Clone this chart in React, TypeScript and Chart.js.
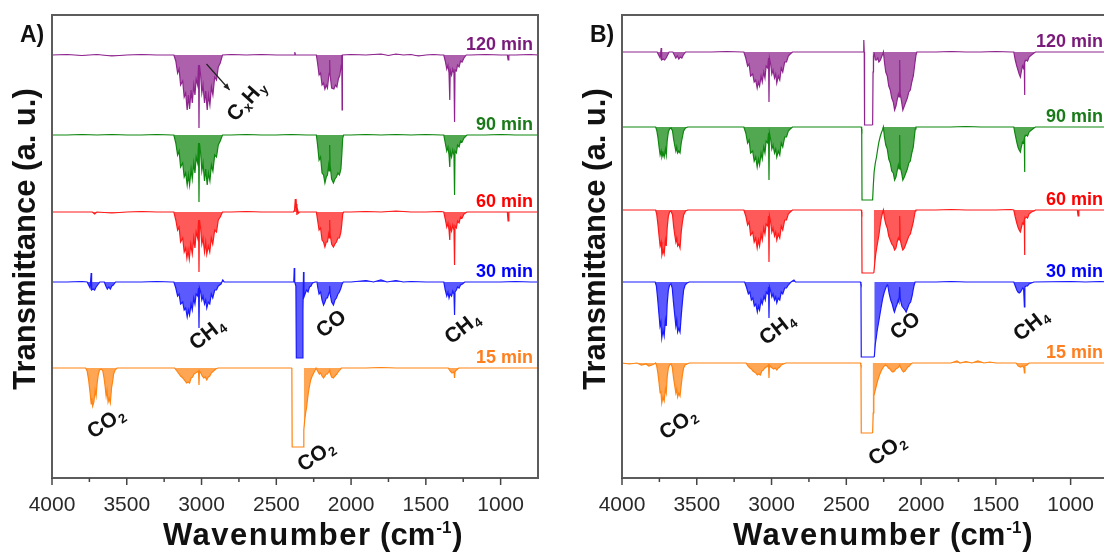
import React, { useEffect, useRef } from 'react';
import { Chart, registerables } from 'chart.js';

Chart.register(...registerables);

type Pt = [number, number];

const seriesLabels = ['120 min', '90 min', '60 min', '30 min', '15 min'];
const lineColors = ['#8E248E', '#0E870E', '#FF1A1A', '#1A1AFF', '#FF8412'];
const fillColors = [
  'rgba(142,36,142,0.72)',
  'rgba(14,135,14,0.72)',
  'rgba(255,26,26,0.72)',
  'rgba(26,26,255,0.72)',
  'rgba(255,132,18,0.72)',
];
const labelColors = ['#7A1A7A', '#1A7A1A', '#FF0000', '#0000FF', '#FF7F1F'];

const xTickValues = [1000, 1250, 1500, 1750, 2000, 2250, 2500, 2750, 3000, 3250, 3500, 3750, 4000];
const xLabelValues = [1000, 1500, 2000, 2500, 3000, 3500, 4000];
const xMin = 750;
const xMax = 4000;
const yMin = 0;
const yMax = 463;

// baselines (a.u.) of the stacked traces: 120, 90, 60, 30, 15 min
const offsetsA = [423, 343, 266, 196, 110];
const offsetsB = [426, 351, 268, 196, 115];

// ---------- Panel A ----------
const a120: Pt[] = [
  [4000, 0], [3900, 0.5], [3800, -0.5], [3700, 0.5], [3600, -1], [3500, 0], [3400, 0.5], [3300, 0], [3200, 0],
  [3185, 0], [3172, -6], [3160, -18], [3150, -14], [3140, -30], [3126, -26], [3116, -42], [3106, -38], [3096, -55], [3088, -40], [3080, -54], [3070, -35], [3062, -48], [3052, -30], [3044, -40], [3036, -24], [3026, -30], [3020, -10], [3017, -73], [3014, -10], [3006, -20], [2998, -38], [2990, -30], [2980, -48], [2972, -36], [2962, -55], [2954, -40], [2944, -50], [2934, -32], [2924, -40], [2912, -22], [2900, -25], [2888, -12], [2875, -8], [2860, 0],
  [2800, 0.5], [2700, 0], [2600, 0.5], [2500, 0], [2420, 0], [2380, 0], [2376, 3], [2372, 0], [2300, 0], [2250, 0],
  [2232, 0], [2224, -8], [2214, -20], [2204, -18], [2194, -30], [2184, -28], [2175, -34], [2166, -30], [2158, -33], [2150, -22], [2146, -18], [2143, -5], [2140, -20], [2130, -33], [2115, -34], [2105, -30], [2095, -32], [2085, -24], [2075, -20], [2066, -10], [2062, 0], [2060, -55], [2058, 0],
  [2000, 0.5], [1900, 0], [1800, 1], [1750, -0.5], [1700, 1], [1650, 0], [1600, 0.5], [1550, -1], [1500, 0], [1450, 0.5], [1400, 0],
  [1380, 0], [1370, -6], [1360, -14], [1352, -10], [1345, -18], [1340, -45], [1337, -15], [1328, -20], [1320, -14], [1312, -18], [1308, -67], [1305, -15], [1296, -16], [1288, -10], [1278, -12], [1268, -6], [1258, -7], [1245, -3], [1230, 0],
  [1200, 0], [1100, 0.5], [1000, 0], [955, 0], [950, -5], [945, 0], [900, 0], [800, 0.5], [750, 0],
];

const a90: Pt[] = [
  [4000, 0], [3900, 0], [3800, 0.5], [3700, 0], [3600, 0.5], [3500, 0], [3400, 0], [3300, 0.5], [3200, 0],
  [3185, 0], [3172, -8], [3160, -20], [3150, -16], [3140, -32], [3126, -28], [3116, -42], [3106, -38], [3096, -50], [3088, -40], [3080, -50], [3070, -34], [3062, -44], [3052, -28], [3044, -38], [3036, -22], [3026, -28], [3020, -8], [3017, -67], [3014, -8], [3006, -18], [2998, -36], [2990, -28], [2980, -46], [2972, -34], [2962, -50], [2954, -38], [2944, -46], [2934, -30], [2924, -36], [2912, -20], [2900, -22], [2888, -10], [2875, -6], [2860, 0],
  [2800, 0], [2700, 0.5], [2600, 0], [2500, 0], [2400, 0.5], [2300, 0], [2250, 0],
  [2232, 0], [2224, -10], [2214, -25], [2204, -22], [2194, -38], [2184, -40], [2175, -48], [2166, -42], [2158, -40], [2150, -30], [2146, -36], [2143, -10], [2140, -30], [2130, -44], [2118, -48], [2108, -44], [2098, -42], [2088, -38], [2078, -40], [2068, -34], [2062, -20], [2056, -3], [2050, 0],
  [2000, 0], [1900, 0.5], [1800, 0], [1700, 0.5], [1600, 0], [1500, 0.5], [1400, 0],
  [1380, 0], [1370, -8], [1360, -16], [1352, -12], [1345, -20], [1340, -32], [1337, -16], [1328, -22], [1320, -15], [1312, -20], [1308, -60], [1305, -16], [1296, -18], [1288, -10], [1278, -12], [1268, -6], [1258, -7], [1245, -3], [1225, 0],
  [1100, 0], [1000, 0.5], [900, 0], [800, 0], [750, 0],
];

const a60: Pt[] = [
  [4000, 0], [3900, 0], [3800, 0], [3730, 0], [3715, -2], [3700, 0], [3600, -1], [3500, 0], [3400, 0.5], [3300, 0], [3200, 0],
  [3185, 0], [3172, -8], [3160, -18], [3150, -15], [3140, -30], [3126, -26], [3116, -40], [3106, -36], [3098, -46], [3090, -38], [3082, -47], [3072, -32], [3062, -42], [3052, -26], [3044, -36], [3036, -20], [3026, -26], [3020, -8], [3017, -60], [3014, -8], [3006, -16], [2998, -32], [2990, -26], [2980, -40], [2972, -30], [2965, -42], [2955, -34], [2945, -40], [2935, -26], [2925, -32], [2912, -18], [2900, -20], [2888, -8], [2875, -5], [2860, 0],
  [2800, 0], [2700, 0.5], [2600, 0], [2500, 0], [2420, 0],
  [2385, 0], [2378, 2], [2373, 13], [2370, 4], [2366, 8], [2362, -3], [2357, 2], [2352, -1], [2345, 0], [2300, 0], [2250, 0],
  [2232, 0], [2224, -8], [2214, -18], [2204, -16], [2194, -28], [2184, -30], [2175, -35], [2166, -30], [2158, -30], [2150, -22], [2146, -26], [2143, -8], [2140, -22], [2130, -32], [2118, -35], [2108, -32], [2098, -30], [2088, -26], [2078, -26], [2068, -20], [2062, -12], [2056, -2], [2050, 0],
  [2000, 0], [1900, 0.5], [1800, 0], [1700, 1], [1600, 0], [1500, 0], [1400, 0.5],
  [1380, 0], [1370, -7], [1360, -15], [1352, -11], [1345, -18], [1340, -28], [1337, -14], [1328, -19], [1320, -13], [1312, -18], [1308, -53], [1305, -14], [1296, -16], [1288, -9], [1278, -11], [1268, -5], [1258, -6], [1245, -2], [1225, 0],
  [1100, 0], [1000, 0], [955, 0], [950, -9], [945, 0], [900, 0], [800, 0], [750, 0],
];

const a30: Pt[] = [
  [4000, 0], [3900, 0], [3800, 0.5], [3765, 0], [3755, -3], [3745, -6], [3738, 9], [3735, -8], [3725, -7], [3715, -8], [3705, -5], [3695, -3], [3680, 0], [3650, 0], [3640, -4], [3630, -7], [3620, -5], [3610, -7], [3600, -4], [3590, -3], [3575, 0], [3500, 0], [3400, 0], [3300, 0.5], [3200, 0],
  [3185, 0], [3172, -6], [3160, -14], [3150, -12], [3140, -22], [3126, -20], [3116, -28], [3106, -26], [3096, -35], [3088, -28], [3080, -33], [3070, -22], [3062, -28], [3052, -16], [3044, -22], [3036, -12], [3026, -14], [3020, -6], [3017, -46], [3014, -6], [3006, -10], [2998, -18], [2990, -14], [2980, -22], [2972, -18], [2965, -26], [2955, -20], [2945, -22], [2935, -12], [2925, -16], [2912, -8], [2900, -8], [2888, -4], [2870, -2], [2858, 2], [2848, 0],
  [2800, 0], [2700, 0], [2600, 0], [2500, 0], [2420, 0],
  [2392, 0], [2383, 0], [2380, 14], [2377, 0], [2369, -4], [2366, -76], [2326, -76], [2322, -30], [2318, 10], [2315, -15], [2308, -12], [2298, -8], [2288, -10], [2278, -5], [2268, -4], [2258, -1], [2240, 0],
  [2228, 0], [2222, -6], [2214, -12], [2204, -10], [2194, -18], [2184, -23], [2175, -20], [2166, -16], [2158, -16], [2150, -12], [2146, -10], [2143, -4], [2140, -12], [2130, -20], [2118, -23], [2108, -18], [2098, -16], [2088, -12], [2078, -10], [2068, -6], [2060, -2], [2052, 0],
  [2000, 0], [1900, 1.5], [1850, 0], [1800, 2], [1760, 0], [1700, 1.5], [1650, 0], [1600, 0.5], [1500, 0], [1400, 0],
  [1380, 0], [1370, -8], [1360, -14], [1352, -10], [1345, -16], [1338, -12], [1328, -14], [1320, -9], [1312, -12], [1308, -33], [1305, -10], [1296, -8], [1288, -5], [1278, -6], [1268, -3], [1255, -2], [1240, 0],
  [1100, 0], [1000, 0], [900, 0.5], [800, 0], [750, 0],
];

const a15: Pt[] = [
  [4000, 0], [3900, 0], [3800, 0], [3775, 0], [3765, -3], [3755, -12], [3745, -25], [3738, -36], [3733, -30], [3728, -38], [3720, -34], [3712, -22], [3705, -28], [3698, -15], [3690, -6], [3682, -2], [3670, -1], [3660, -3], [3652, -10], [3645, -18], [3638, -28], [3632, -22], [3625, -34], [3618, -30], [3610, -35], [3602, -20], [3595, -14], [3588, -6], [3578, -2], [3565, 0], [3500, 0], [3400, 0], [3300, 0], [3200, 0],
  [3180, 0], [3165, -3], [3150, -6], [3140, -8], [3125, -10], [3110, -13], [3100, -15], [3090, -14], [3080, -15], [3070, -10], [3060, -9], [3050, -6], [3040, -5], [3030, -4], [3020, -3], [3017, -17], [3014, -3], [3005, -5], [2995, -8], [2985, -10], [2975, -9], [2965, -12], [2955, -9], [2945, -8], [2935, -5], [2920, -3], [2905, -1], [2890, 0],
  [2800, 0], [2700, 0], [2600, 0], [2500, 0], [2420, 0],
  [2396, 0], [2394, -79], [2318, -79], [2316, -62], [2310, -52], [2304, -45], [2298, -40], [2292, -32], [2285, -24], [2278, -18], [2270, -12], [2260, -8], [2250, -5], [2240, -2], [2234, 0],
  [2228, 0], [2220, -4], [2212, -6], [2204, -5], [2194, -8], [2184, -10], [2175, -8], [2166, -6], [2158, -6], [2150, -4], [2143, -2], [2140, -5], [2130, -9], [2118, -10], [2108, -8], [2096, -6], [2086, -4], [2076, -2], [2065, 0],
  [2000, 0], [1900, 0], [1800, 0.5], [1700, 0], [1600, 0], [1500, 0], [1400, 0],
  [1350, 0], [1338, -3], [1325, -5], [1312, -4], [1308, -10], [1305, -4], [1295, -2], [1280, 0],
  [1100, 0], [1000, 0], [900, 0], [800, 0], [750, 0],
];

// ---------- Panel B ----------
const b120: Pt[] = [
  [4000, 0], [3900, 0], [3800, 0], [3765, 0], [3755, -3], [3745, -6], [3738, 4], [3735, -8], [3725, -7], [3715, -8], [3705, -6], [3695, -3], [3685, 0], [3660, 0], [3650, -3], [3640, -6], [3630, -4], [3620, -7], [3610, -5], [3600, -6], [3590, -3], [3575, 0], [3400, 0], [3300, 0.5], [3200, 0],
  [3185, 0], [3172, -6], [3160, -14], [3150, -12], [3140, -24], [3126, -22], [3116, -30], [3106, -28], [3096, -36], [3088, -30], [3080, -34], [3070, -24], [3062, -30], [3052, -20], [3044, -26], [3036, -14], [3026, -16], [3020, -6], [3017, -50], [3014, -6], [3006, -12], [2998, -22], [2990, -18], [2980, -26], [2972, -22], [2965, -31], [2955, -24], [2945, -28], [2935, -16], [2925, -20], [2912, -10], [2900, -10], [2888, -4], [2875, -2], [2860, 0],
  [2800, 0], [2700, 0], [2600, 0], [2500, 0], [2420, 0],
  [2395, 0], [2386, 0], [2383, 12], [2380, 0], [2378, -73], [2324, -73], [2321, -20], [2318, -4], [2312, -2], [2306, -8], [2298, -8], [2290, -6], [2282, -10], [2272, -8], [2262, -4], [2256, -2],
  [2252, 0], [2245, -10], [2236, -20], [2226, -24], [2216, -34], [2206, -38], [2196, -46], [2186, -50], [2177, -58], [2168, -54], [2160, -48], [2152, -42], [2147, -45], [2143, -8], [2139, -42], [2130, -50], [2122, -58], [2112, -54], [2102, -50], [2092, -46], [2082, -40], [2072, -38], [2062, -30], [2052, -24], [2042, -12], [2034, -3], [2028, 0],
  [1900, 0], [1800, 0.5], [1700, 0], [1600, 0], [1500, 0.5], [1400, 0],
  [1380, 0], [1370, -8], [1360, -14], [1352, -18], [1344, -22], [1336, -25], [1330, -20], [1322, -14], [1316, -16], [1310, -12], [1308, -43], [1306, -10], [1298, -8], [1288, -9], [1278, -5], [1262, -3], [1245, -1], [1235, 0],
  [1100, 0], [1000, 0], [900, 0], [800, 0], [750, 0],
];

const b90: Pt[] = [
  [4000, 0], [3900, 0], [3800, 0], [3775, 0], [3768, -3], [3760, -10], [3752, -20], [3745, -28], [3738, -24], [3733, -30], [3725, -26], [3718, -30], [3710, -22], [3704, -28], [3698, -14], [3690, -5], [3682, -2], [3672, -1], [3662, -4], [3655, -12], [3648, -18], [3640, -24], [3634, -20], [3628, -26], [3620, -24], [3612, -26], [3604, -16], [3596, -10], [3588, -4], [3575, -1], [3560, 0], [3400, 0], [3300, 0], [3200, 0],
  [3185, 0], [3172, -6], [3160, -16], [3150, -13], [3140, -26], [3126, -24], [3116, -34], [3106, -30], [3096, -40], [3088, -32], [3080, -38], [3070, -26], [3062, -32], [3052, -20], [3044, -26], [3036, -14], [3026, -16], [3020, -6], [3017, -53], [3014, -6], [3006, -12], [2998, -22], [2990, -18], [2980, -26], [2972, -22], [2965, -30], [2955, -24], [2945, -28], [2935, -16], [2925, -20], [2912, -10], [2900, -10], [2888, -4], [2875, -2], [2860, 0],
  [2800, 0], [2700, 0], [2600, 0], [2500, 0], [2420, 0],
  [2400, 0], [2397, -2], [2395, -73], [2324, -73], [2320, -60], [2314, -45], [2306, -36], [2298, -30], [2290, -22], [2282, -15], [2274, -10], [2266, -6], [2258, -3],
  [2252, 0], [2245, -10], [2236, -18], [2226, -22], [2216, -32], [2206, -36], [2196, -44], [2186, -46], [2177, -53], [2168, -50], [2160, -44], [2152, -38], [2147, -42], [2143, -8], [2139, -40], [2130, -46], [2122, -53], [2112, -50], [2102, -46], [2092, -42], [2082, -36], [2072, -34], [2062, -26], [2052, -20], [2045, -10], [2039, -2], [2034, 0],
  [1900, 0], [1800, 0], [1700, 0.5], [1600, 0], [1500, 0], [1400, 0],
  [1380, 0], [1370, -8], [1360, -15], [1352, -20], [1344, -23], [1336, -25], [1330, -20], [1322, -15], [1316, -16], [1310, -12], [1308, -45], [1306, -10], [1298, -8], [1288, -9], [1278, -5], [1262, -3], [1245, -1], [1235, 0],
  [1100, 0], [1000, 0], [900, 0], [800, 0], [750, 0],
];

const b60: Pt[] = [
  [4000, 0], [3900, 0], [3800, 0], [3775, 0], [3768, -4], [3760, -14], [3752, -26], [3745, -36], [3738, -32], [3733, -45], [3725, -40], [3718, -44], [3710, -30], [3704, -36], [3698, -18], [3690, -6], [3682, -2], [3672, -1], [3662, -5], [3655, -16], [3648, -24], [3640, -32], [3634, -28], [3628, -36], [3620, -34], [3612, -38], [3604, -22], [3596, -12], [3588, -5], [3575, -1], [3560, 0], [3400, 0], [3300, 0], [3200, 0],
  [3185, 0], [3172, -6], [3160, -15], [3150, -12], [3140, -25], [3126, -22], [3116, -32], [3106, -28], [3096, -38], [3088, -30], [3080, -36], [3070, -24], [3062, -30], [3052, -18], [3044, -24], [3036, -14], [3026, -16], [3020, -6], [3017, -52], [3014, -6], [3006, -12], [2998, -22], [2990, -18], [2980, -26], [2972, -22], [2965, -30], [2955, -24], [2945, -28], [2935, -16], [2925, -20], [2912, -10], [2900, -10], [2888, -4], [2875, -2], [2860, 0],
  [2800, 0], [2700, 0], [2600, 0], [2500, 0], [2420, 0],
  [2400, 0], [2397, -2], [2395, -63], [2316, -63], [2311, -55], [2304, -45], [2297, -38], [2290, -32], [2282, -25], [2274, -16], [2266, -8], [2258, -3],
  [2252, 0], [2245, -8], [2236, -14], [2226, -18], [2216, -26], [2206, -30], [2196, -34], [2186, -36], [2177, -40], [2168, -38], [2160, -32], [2152, -28], [2147, -30], [2143, -6], [2139, -30], [2130, -36], [2122, -40], [2112, -38], [2102, -34], [2092, -30], [2082, -26], [2072, -24], [2062, -18], [2052, -12], [2045, -6], [2039, -1], [2034, 0],
  [1900, 0], [1800, 0.5], [1700, 0], [1600, 0], [1500, 0], [1400, 0.5],
  [1380, 0], [1370, -7], [1360, -13], [1352, -17], [1344, -20], [1336, -22], [1330, -18], [1322, -13], [1316, -14], [1310, -10], [1308, -45], [1306, -9], [1298, -7], [1288, -8], [1278, -4], [1262, -2], [1245, -1], [1235, 0],
  [1000, 0], [955, 0], [950, -6], [945, 0], [900, 0], [800, 0], [750, 0],
];

const b30: Pt[] = [
  [4000, 0], [3900, 0], [3800, 0], [3778, 0], [3770, -4], [3762, -16], [3754, -30], [3746, -44], [3740, -40], [3734, -56], [3726, -48], [3718, -54], [3710, -38], [3704, -44], [3698, -22], [3690, -8], [3682, -3], [3672, -2], [3664, -6], [3656, -20], [3648, -32], [3640, -44], [3634, -38], [3628, -50], [3620, -46], [3612, -50], [3604, -34], [3596, -20], [3588, -8], [3578, -3], [3565, -1], [3550, 0], [3400, 0], [3300, 0], [3200, 0],
  [3180, 0], [3168, -5], [3155, -12], [3145, -10], [3135, -18], [3125, -16], [3115, -24], [3105, -22], [3095, -30], [3088, -24], [3080, -28], [3070, -18], [3062, -22], [3050, -14], [3042, -18], [3035, -10], [3025, -12], [3020, -5], [3017, -36], [3014, -5], [3006, -9], [2998, -15], [2990, -12], [2980, -18], [2972, -15], [2965, -21], [2955, -16], [2945, -18], [2935, -10], [2925, -12], [2912, -6], [2900, -6], [2888, -3], [2870, 0], [2850, 2], [2840, 0],
  [2800, 0], [2700, 0], [2600, 0], [2500, 0], [2420, 0],
  [2406, 0], [2402, -2], [2400, -75], [2313, -75], [2306, -62], [2300, -56], [2293, -48], [2286, -42], [2278, -35], [2268, -26], [2256, -16], [2246, -10], [2234, -5], [2226, -3],
  [2222, -4], [2213, -12], [2203, -18], [2193, -22], [2183, -28], [2178, -30], [2170, -26], [2160, -22], [2153, -18], [2148, -20], [2143, -5], [2138, -18], [2128, -24], [2118, -26], [2108, -28], [2100, -30], [2090, -26], [2080, -22], [2070, -20], [2060, -14], [2053, -8], [2046, -3], [2040, 0],
  [1900, 0], [1800, 0.5], [1700, 0], [1600, 0], [1500, 0], [1400, 0],
  [1380, 0], [1370, -4], [1360, -8], [1352, -10], [1344, -11], [1336, -10], [1328, -8], [1320, -6], [1314, -7], [1309, -25], [1306, -5], [1298, -4], [1288, -4], [1278, -2], [1262, -1], [1245, 0],
  [1000, 0.5], [900, 0], [800, 0.5], [750, 0],
];

const b15: Pt[] = [
  [4000, 0], [3950, -1], [3900, 0], [3870, -2], [3840, -1], [3820, -3], [3800, -2], [3785, -1], [3775, 0], [3768, -3], [3760, -10], [3752, -20], [3745, -30], [3740, -28], [3734, -40], [3726, -34], [3718, -38], [3710, -26], [3704, -30], [3698, -14], [3690, -5], [3682, -2], [3672, -1], [3664, -4], [3656, -14], [3648, -22], [3640, -30], [3634, -26], [3628, -34], [3620, -30], [3612, -33], [3604, -22], [3596, -12], [3588, -5], [3578, -2], [3565, -1], [3550, 0], [3400, 0], [3300, 0], [3200, 0],
  [3170, 0], [3158, -3], [3145, -5], [3135, -6], [3125, -8], [3115, -9], [3105, -10], [3095, -12], [3085, -11], [3075, -12], [3065, -8], [3055, -7], [3045, -5], [3035, -4], [3025, -3], [3020, -2], [3017, -15], [3014, -2], [3005, -4], [2995, -5], [2985, -6], [2975, -5], [2965, -7], [2955, -5], [2945, -4], [2935, -2], [2920, -1], [2905, 0],
  [2800, 0], [2700, 0], [2600, 0], [2500, 0], [2420, 0],
  [2406, 0], [2402, -2], [2400, -70], [2324, -70], [2320, -50], [2316, -33], [2308, -28], [2298, -22], [2289, -17], [2278, -12], [2267, -8], [2256, -5], [2246, -3], [2238, -2],
  [2228, -3], [2218, -5], [2208, -6], [2198, -8], [2188, -9], [2178, -8], [2168, -6], [2158, -5], [2150, -4], [2143, -2], [2138, -4], [2128, -7], [2118, -9], [2108, -8], [2098, -6], [2088, -4], [2078, -3], [2068, -1], [2058, 0],
  [1900, 0], [1800, 0], [1760, 2], [1740, 0], [1700, 1.5], [1660, 0], [1620, 2], [1580, 0], [1540, 1], [1500, 0], [1400, 0],
  [1365, 0], [1350, -3], [1335, -4], [1322, -3], [1312, -5], [1309, -10], [1306, -3], [1292, -2], [1278, 0],
  [1100, 0], [1000, 0], [900, 0], [800, 0], [750, 0],
];

// wavenumber ranges where the saturated CO2 box is drawn as an outline only
const noFillA: (number[] | null)[] = [null, null, null, null, [2316, 2396]];
const noFillB: (number[] | null)[] = [[2322, 2380], [2255, 2397], [2316, 2397], [2313, 2402], [2324, 2402]];

type Note = { text: string; wn: number; y: number; angle: number };
const notesA: Note[] = [
  { text: 'CH_4', wn: 2967, y: 145, angle: -38 },
  { text: 'CO', wn: 2137, y: 155, angle: -38 },
  { text: 'CH_4', wn: 1260, y: 151, angle: -38 },
  { text: 'CO_2', wn: 3643, y: 56, angle: -34 },
  { text: 'CO_2', wn: 2238, y: 23, angle: -34 },
  { text: 'C_xH_y', wn: 2706, y: 378, angle: -48 },
];
const notesB: Note[] = [
  { text: 'CH_4', wn: 2966, y: 150, angle: -38 },
  { text: 'CO', wn: 2110, y: 153, angle: -38 },
  { text: 'CH_4', wn: 1268, y: 154, angle: -38 },
  { text: 'CO_2', wn: 3628, y: 55, angle: -34 },
  { text: 'CO_2', wn: 2231, y: 29, angle: -34 },
];
const arrowA: Pt[] = [[2967, 414], [2812, 388]];

type PanelDef = {
  letter: string;
  offsets: number[];
  series: Pt[][];
  noFill: (number[] | null)[];
  notes: Note[];
  arrow: Pt[] | null;
};

const panelA: PanelDef = { letter: 'A)', offsets: offsetsA, series: [a120, a90, a60, a30, a15], noFill: noFillA, notes: notesA, arrow: arrowA };
const panelB: PanelDef = { letter: 'B)', offsets: offsetsB, series: [b120, b90, b60, b30, b15], noFill: noFillB, notes: notesB, arrow: null };

const SANS = '"Liberation Sans", Arial, Helvetica, sans-serif';

function drawChem(ctx: CanvasRenderingContext2D, text: string, x: number, y: number, angle: number) {
  const parts: { t: string; sub: boolean }[] = [];
  for (let i = 0; i < text.length; i++) {
    if (text[i] === '_') {
      parts.push({ t: text[i + 1], sub: true });
      i++;
    } else {
      const last = parts[parts.length - 1];
      if (last && !last.sub) last.t += text[i];
      else parts.push({ t: text[i], sub: false });
    }
  }
  const mainFont = `bold 21px ${SANS}`;
  const subFont = `bold 13px ${SANS}`;
  let total = 0;
  const widths = parts.map((p) => {
    ctx.font = p.sub ? subFont : mainFont;
    const w = ctx.measureText(p.t).width + (p.sub ? 1 : 0);
    total += w;
    return w;
  });
  ctx.save();
  ctx.translate(x, y);
  ctx.rotate((angle * Math.PI) / 180);
  ctx.fillStyle = '#111';
  ctx.textAlign = 'left';
  ctx.textBaseline = 'alphabetic';
  let cx = -total / 2;
  parts.forEach((p, i) => {
    ctx.font = p.sub ? subFont : mainFont;
    ctx.fillText(p.t, cx + (p.sub ? 1 : 0), p.sub ? 11 : 7.5);
    cx += widths[i];
  });
  ctx.restore();
}

function makeOverlay(panel: PanelDef) {
  return {
    id: 'overlay',
    afterDraw(chart: any) {
      const { ctx, chartArea: ca, scales } = chart;
      const x = scales.x;
      const y = scales.y;
      ctx.save();
      // frame
      ctx.strokeStyle = '#5c5c5c';
      ctx.lineWidth = 2;
      ctx.strokeRect(ca.left, ca.top, ca.right - ca.left, ca.bottom - ca.top);
      // x ticks (major and minor)
      ctx.strokeStyle = '#444';
      ctx.lineWidth = 1.5;
      for (const v of xTickValues) {
        const px = x.getPixelForValue(v);
        const len = xLabelValues.includes(v) ? 7 : 4;
        ctx.beginPath();
        ctx.moveTo(px, ca.bottom);
        ctx.lineTo(px, ca.bottom + len);
        ctx.stroke();
      }
      // series labels
      ctx.font = `bold 18px ${SANS}`;
      ctx.textAlign = 'right';
      ctx.textBaseline = 'alphabetic';
      panel.offsets.forEach((off, i) => {
        ctx.fillStyle = labelColors[i];
        ctx.fillText(seriesLabels[i], ca.right - 5, y.getPixelForValue(off) - 5);
      });
      // annotations
      panel.notes.forEach((n) => {
        drawChem(ctx, n.text, x.getPixelForValue(n.wn), y.getPixelForValue(n.y), n.angle);
      });
      if (panel.arrow) {
        const [p, q] = panel.arrow;
        const x1 = x.getPixelForValue(p[0]);
        const y1 = y.getPixelForValue(p[1]);
        const x2 = x.getPixelForValue(q[0]);
        const y2 = y.getPixelForValue(q[1]);
        ctx.strokeStyle = '#222';
        ctx.fillStyle = '#222';
        ctx.lineWidth = 1.2;
        ctx.beginPath();
        ctx.moveTo(x1, y1);
        ctx.lineTo(x2, y2);
        ctx.stroke();
        const a = Math.atan2(y2 - y1, x2 - x1);
        ctx.beginPath();
        ctx.moveTo(x2, y2);
        ctx.lineTo(x2 - 7 * Math.cos(a - 0.4), y2 - 7 * Math.sin(a - 0.4));
        ctx.lineTo(x2 - 7 * Math.cos(a + 0.4), y2 - 7 * Math.sin(a + 0.4));
        ctx.closePath();
        ctx.fill();
      }
      // panel letter
      ctx.fillStyle = '#111';
      ctx.font = `bold 23px ${SANS}`;
      ctx.textAlign = 'left';
      ctx.fillText(panel.letter, 20, 42);
      // y title
      ctx.save();
      ctx.translate(26, 239);
      ctx.rotate(-Math.PI / 2);
      ctx.font = `bold 31px ${SANS}`;
      ctx.textAlign = 'center';
      ctx.textBaseline = 'middle';
      ctx.fillText('Transmittance (a. u.)', 0, 0);
      ctx.restore();
      // x title with superscript
      let sx = ca.left + 111;
      const base = 545;
      ctx.textAlign = 'left';
      ctx.textBaseline = 'alphabetic';
      ctx.font = `bold 31px ${SANS}`;
      (ctx as any).letterSpacing = '1.5px';
      ctx.fillText('Wavenumber', sx, base);
      sx += ctx.measureText('Wavenumber').width;
      (ctx as any).letterSpacing = '0px';
      ctx.fillText(' (cm', sx, base);
      sx += ctx.measureText(' (cm').width + 1;
      ctx.font = `bold 17px ${SANS}`;
      ctx.fillText('-1', sx, base - 12);
      sx += ctx.measureText('-1').width + 1;
      ctx.font = `bold 31px ${SANS}`;
      ctx.fillText(')', sx, base);
      ctx.restore();
    },
  };
}

function buildConfig(panel: PanelDef): any {
  const datasets = panel.series.map((pts, i) => {
    const range = panel.noFill[i];
    return {
      label: seriesLabels[i],
      data: pts.map(([wn, d]) => ({ x: wn, y: panel.offsets[i] + d })),
      borderColor: lineColors[i],
      backgroundColor: fillColors[i],
      borderWidth: 1.2,
      pointRadius: 0,
      tension: 0,
      fill: { value: panel.offsets[i] },
      segment: {
        backgroundColor: (c: any) => {
          if (!range) return undefined;
          const a = c.p0.parsed.x;
          const b = c.p1.parsed.x;
          return Math.min(a, b) >= range[0] - 0.1 && Math.max(a, b) <= range[1] + 0.1 ? 'rgba(0,0,0,0)' : undefined;
        },
      },
    };
  });
  return {
    type: 'line',
    data: { datasets },
    options: {
      animation: false,
      responsive: false,
      maintainAspectRatio: false,
      events: [],
      layout: { padding: { top: 15, right: 22, left: 0, bottom: 0 } },
      plugins: { legend: { display: false }, tooltip: { enabled: false }, title: { display: false } },
      scales: {
        x: {
          type: 'linear',
          reverse: true,
          min: xMin,
          max: xMax,
          afterBuildTicks: (scale: any) => {
            scale.ticks = xTickValues.map((v) => ({ value: v }));
          },
          afterFit: (scale: any) => {
            scale.height = 75;
          },
          ticks: {
            autoSkip: false,
            maxRotation: 0,
            minRotation: 0,
            padding: 8,
            color: '#2a2a2a',
            font: { family: SANS, size: 21 },
            callback: (v: any) => (xLabelValues.includes(Number(v)) ? String(v) : ''),
          },
          grid: { display: true, drawOnChartArea: false, tickLength: 7, color: 'rgba(0,0,0,0)' },
          border: { display: false },
          title: { display: false },
        },
        y: {
          type: 'linear',
          min: yMin,
          max: yMax,
          afterFit: (scale: any) => {
            scale.width = 52;
          },
          ticks: { display: false },
          grid: { display: false },
          border: { display: false },
          title: { display: false },
        },
      },
    },
    plugins: [makeOverlay(panel)],
  };
}

function Panel({ panel, left }: { panel: PanelDef; left: number }) {
  const ref = useRef<HTMLCanvasElement>(null);
  useEffect(() => {
    const chart = new Chart(ref.current as HTMLCanvasElement, buildConfig(panel));
    return () => chart.destroy();
  }, [panel]);
  return (
    <canvas
      ref={ref}
      width={560}
      height={553}
      style={{ position: 'absolute', left, top: 0, width: 560, height: 553 }}
    />
  );
}

export default function App() {
  return (
    <div
      style={{
        position: 'fixed',
        left: 0,
        top: 0,
        width: 1104,
        height: 553,
        overflow: 'hidden',
        background: '#ffffff',
      }}
    >
      <Panel panel={panelA} left={0} />
      <Panel panel={panelB} left={570} />
    </div>
  );
}
